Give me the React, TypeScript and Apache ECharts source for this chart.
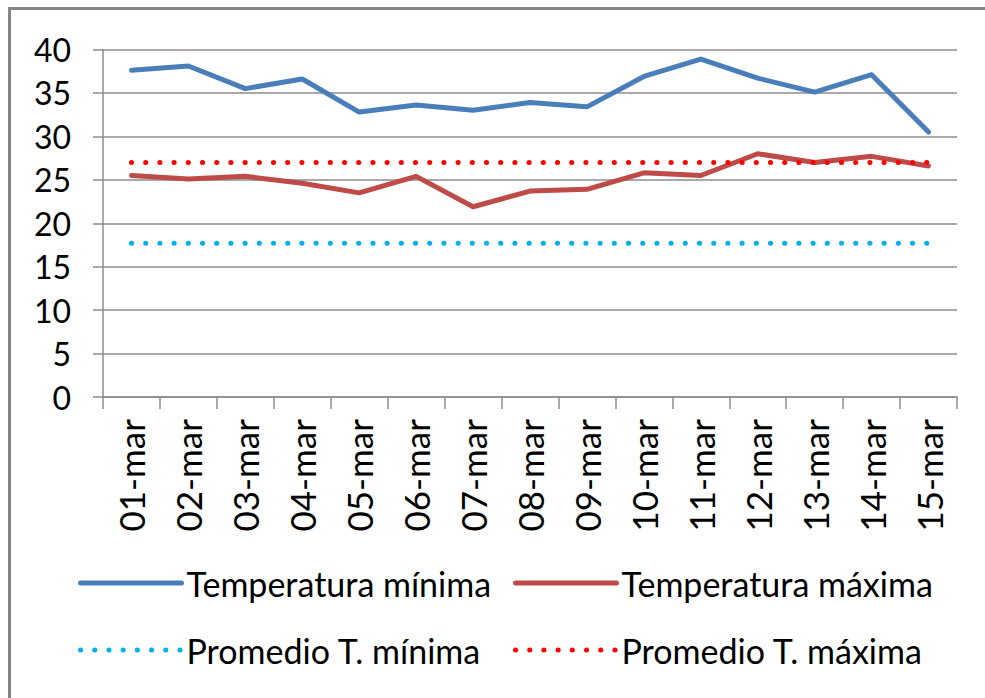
import React, { useEffect, useRef } from "react";
import * as echarts from "echarts";

const categories = ["01-mar", "02-mar", "03-mar", "04-mar", "05-mar", "06-mar", "07-mar", "08-mar", "09-mar", "10-mar", "11-mar", "12-mar", "13-mar", "14-mar", "15-mar"];
const tempMin = [37.6, 38.1, 35.5, 36.6, 32.8, 33.6, 33.0, 33.9, 33.4, 36.9, 38.9, 36.7, 35.1, 37.1, 30.5];
const tempMax = [25.5, 25.1, 25.4, 24.6, 23.5, 25.4, 21.9, 23.7, 23.9, 25.8, 25.5, 28.0, 27.0, 27.7, 26.6];
const avgMin = [17.7, 17.7, 17.7, 17.7, 17.7, 17.7, 17.7, 17.7, 17.7, 17.7, 17.7, 17.7, 17.7, 17.7, 17.7];
const avgMax = [27.0, 27.0, 27.0, 27.0, 27.0, 27.0, 27.0, 27.0, 27.0, 27.0, 27.0, 27.0, 27.0, 27.0, 27.0];
const names = ["Temperatura mínima", "Temperatura máxima", "Promedio T. mínima", "Promedio T. máxima"];

const FONT = "Lato";
const GRID = "#8c8c8c";

export default function App() {
  const ref = useRef<HTMLDivElement>(null);
  useEffect(() => {
    if (!ref.current) return;
    const chart = echarts.init(ref.current, undefined, { renderer: "svg" });
    const dots = [0.1, 14.1];
    const legendBase = (name: string, left: number, top: number, dotted: boolean) => ({
      data: [name],
      left,
      top,
      padding: 0,
      orient: "horizontal",
      itemWidth: 101,
      itemHeight: 14,
      selectedMode: false,
      textStyle: { fontFamily: FONT, fontSize: 34, color: "#000" },
      itemStyle: { opacity: 0, borderWidth: 0 },
      lineStyle: dotted ? { width: 5, type: dots, cap: "round" } : { width: 5, cap: "round" },
    });
    chart.setOption({
      animation: false,
      backgroundColor: "#fff",
      grid: { left: 103, right: 28, top: 49.5, bottom: 301, containLabel: false },
      graphic: [
        {
          type: "rect",
          shape: { x: 9.5, y: 8.5, width: 2000, height: 2000 },
          style: { fill: "none", stroke: "#858585", lineWidth: 3 },
          silent: true,
        },
      ],
      legend: [
        legendBase(names[0], 78, 566, false),
        legendBase(names[1], 513, 566, false),
        legendBase(names[2], 78, 633, true),
        legendBase(names[3], 513, 633, true),
      ],
      xAxis: {
        type: "category",
        data: categories,
        boundaryGap: true,
        axisLine: { show: true, lineStyle: { color: GRID, width: 1.5 } },
        axisTick: { show: true, length: 12, lineStyle: { color: GRID, width: 1.5 } },
        axisLabel: { rotate: 90, margin: 22, fontFamily: FONT, fontSize: 35, color: "#000" },
        splitLine: { show: false },
      },
      yAxis: {
        type: "value",
        min: 0,
        max: 40,
        interval: 5,
        axisLine: { show: true, lineStyle: { color: GRID, width: 1.5 } },
        axisTick: { show: true, length: 10, lineStyle: { color: GRID, width: 1.5 } },
        axisLabel: { margin: 32, fontFamily: FONT, fontSize: 32, color: "#000" },
        splitLine: { show: true, lineStyle: { color: GRID, width: 1.5 } },
      },
      series: [
        {
          name: names[0],
          type: "line",
          data: tempMin,
          symbol: "none",
          lineStyle: { color: "#4a7ebb", width: 5, join: "round", cap: "round" },
          itemStyle: { color: "#4a7ebb" },
          z: 4,
        },
        {
          name: names[1],
          type: "line",
          data: tempMax,
          symbol: "none",
          lineStyle: { color: "#be4b48", width: 5, join: "round", cap: "round" },
          itemStyle: { color: "#be4b48" },
          z: 3,
        },
        {
          name: names[2],
          type: "line",
          data: avgMin,
          symbol: "none",
          lineStyle: { color: "#00b0f0", width: 5, type: dots, cap: "round" },
          itemStyle: { color: "#00b0f0" },
          z: 2,
        },
        {
          name: names[3],
          type: "line",
          data: avgMax,
          symbol: "none",
          lineStyle: { color: "#ff0000", width: 5, type: dots, cap: "round" },
          itemStyle: { color: "#ff0000" },
          z: 5,
        },
      ],
    });
    return () => chart.dispose();
  }, []);
  return (
    <div
      ref={ref}
      style={{ position: "fixed", left: 0, top: 0, width: 985, height: 698, background: "#fff" }}
    />
  );
}
